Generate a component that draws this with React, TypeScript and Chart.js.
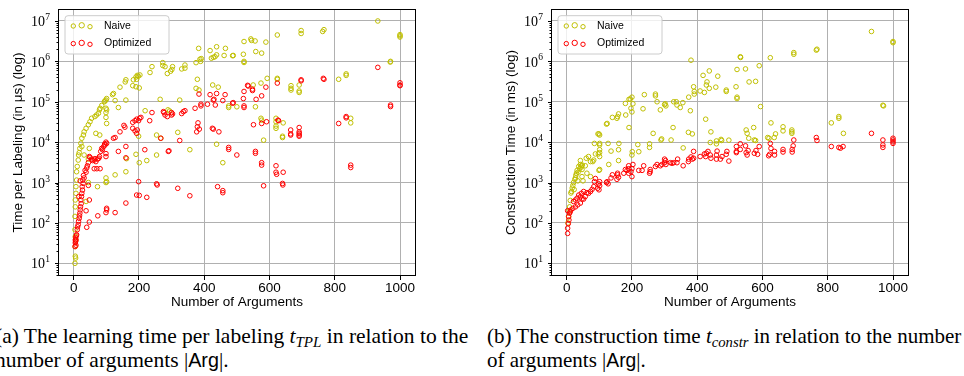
import React, { useEffect, useRef } from 'react';
import { Chart, registerables } from 'chart.js';

Chart.register(...registerables);

type Pt = [number, number];

// ---------- data ----------
const xTicks = [0, 200, 400, 600, 800, 1000];
const yMajorExps = [1, 2, 3, 4, 5, 6, 7];
const seriesLabels = ['Naive', 'Optimized'];
const seriesColors = ['#bfbf00', '#ff0000'];
const xLabel = 'Number of Arguments';
const yLabelTpl = 'Time per Labeling (in \u03bcs) (log)';
const yLabelConstr = 'Construction Time (in ms) (log)';

const tplNaive: Pt[] = [
  [932, 1.0e7], [1000, 4.6e6], [1000, 4.3e6], [1000, 4.0e6], [971, 1.0e6], [970, 9.6e5],
  [763, 5.5e6], [767, 6.1e6], [697, 5.8e6], [697, 4.9e6], [624, 4.5e6], [589, 3.0e6],
  [576, 1.6e6], [558, 1.75e6], [543, 3.6e6], [545, 3.3e6], [556, 3.2e6], [522, 3.1e6],
  [520, 1.5e6], [522, 1.0e6], [522, 9.4e5], [489, 1.4e6], [487, 1.38e6], [461, 1.4e6],
  [465, 2.1e6], [438, 2.3e6], [438, 1.45e6], [433, 1.3e6], [428, 1.26e6], [422, 1.2e6],
  [418, 1.85e6], [389, 1.0e6], [387, 1.13e6], [391, 1.17e6], [375, 9.3e5], [383, 2.1e6],
  [379, 3.6e5], [375, 2.15e5], [384, 1.95e5], [426, 2.6e5], [443, 2.3e5], [341, 8.1e5],
  [341, 6.8e5], [331, 6.5e5], [303, 7.4e5], [301, 6.3e5], [297, 5.7e5], [287, 5.0e5],
  [280, 7.4e5], [273, 9.3e5], [273, 7.9e5], [240, 7.4e5], [234, 5.3e5], [203, 4.6e5],
  [198, 4.3e5], [195, 4.5e5], [191, 4.1e5], [193, 3.6e5], [183, 3.5e5], [181, 2.5e5],
  [191, 2.35e5], [201, 2.2e5], [160, 3.5e5], [158, 3.1e5], [142, 2.3e5], [122, 1.6e5],
  [119, 1.5e5], [127, 1.07e5], [160, 1.1e5], [137, 7.2e4], [101, 1.2e5], [99, 1.1e5],
  [96, 1.05e5], [94, 1.0e5], [99, 6.9e4], [101, 6.3e4], [99, 5.4e4], [99, 4.1e4],
  [101, 2.9e4], [86, 8.1e4], [81, 6.9e4], [79, 6.3e4], [76, 5.2e4], [70, 4.7e4],
  [65, 4.3e4], [55, 3.9e4], [50, 3.2e4], [45, 2.7e4], [38, 2.2e4], [32, 1.8e4],
  [30, 1.5e4], [25, 1.25e4], [22, 9.4e3], [19, 7.0e3], [17, 5.5e3], [15, 4.8e3],
  [68, 1.65e4], [80, 1.5e4], [14, 3.6e3], [11, 2.5e3], [9, 1.85e3], [9, 1.15e3],
  [7, 7.9e2], [7, 5.4e2], [5, 3.7e2], [5, 2.5e2], [4, 1.45e2], [4, 6.8e1], [5, 4.6e1],
  [7, 3.8e1], [5, 2.6e1], [5, 1.5e1], [6, 1.35e1], [4, 1.0e1], [32, 4.8e3], [25, 7.8e3],
  [45, 3.8e3], [45, 1.0e3], [38, 3.4e2], [48, 7.0e3], [73, 7.9e2], [99, 1.3e3],
  [101, 1.05e3], [99, 1.0e3], [127, 1.55e3], [160, 1.85e3], [162, 3.9e3], [191, 5.0e3],
  [201, 3.1e3], [224, 3.5e3], [254, 4.8e3], [254, 1.5e4], [267, 1.25e4], [319, 1.75e4],
  [356, 6.5e3], [325, 1.1e5], [265, 1.15e5], [289, 6.3e4], [294, 5.9e4], [199, 1.4e4],
  [219, 6.0e4], [438, 8.9e3], [457, 3.1e3], [475, 7.9e4], [475, 7.2e4], [500, 7.5e4],
  [557, 7.5e4], [574, 3.9e4], [576, 3.5e4], [582, 1.12e4], [620, 3.9e4], [620, 3.2e4],
  [620, 2.5e4], [620, 2.2e4], [642, 3.0e4], [640, 1.4e4], [640, 1.3e4], [624, 3.8e5],
  [624, 3.6e5], [593, 3.8e5], [574, 2.9e5], [550, 2.6e5], [666, 2.5e5], [666, 2.15e5],
  [666, 1.95e5], [691, 2.6e5], [691, 1.7e5], [691, 1.85e5], [812, 3.6e5], [835, 4.9e5],
  [835, 4.5e5], [849, 3.9e4], [849, 3.0e4]
];

const tplOptimized: Pt[] = [
  [932, 7.1e5], [1000, 2.95e5], [1000, 2.6e5], [1000, 2.5e5], [971, 8.3e4], [971, 7.6e4],
  [765, 3.8e5], [767, 3.6e5], [697, 3.5e5], [697, 3.3e5], [624, 2.9e5], [626, 3.5e4],
  [628, 3.4e4], [591, 3.2e4], [576, 2.9e4], [551, 2.7e4], [589, 2.3e5], [576, 1.4e5],
  [559, 1.15e5], [548, 2.05e5], [548, 1.9e5], [533, 2.55e5], [535, 2.45e5], [522, 1.8e5],
  [520, 1.2e5], [522, 7.9e4], [522, 7.2e4], [489, 9.5e4], [487, 9.2e4], [464, 1.5e5],
  [457, 1.07e5], [438, 1.6e5], [434, 8.3e4], [428, 1.1e5], [430, 1.15e5], [418, 1.5e5],
  [410, 8.7e4], [390, 8.7e4], [390, 7.9e4], [384, 1.55e5], [372, 6.9e4], [381, 3.0e4],
  [379, 2.4e4], [385, 2.1e4], [377, 1.8e4], [425, 2.2e4], [428, 2.1e4], [445, 1.8e4],
  [475, 7.4e3], [475, 6.6e3], [500, 4.8e3], [557, 5.9e3], [557, 5.3e3], [576, 3.1e3],
  [576, 2.7e3], [582, 8.3e2], [620, 2.6e3], [620, 1.8e3], [622, 1.6e3], [642, 1.8e3],
  [640, 9.5e2], [641, 8.7e2], [665, 2.0e4], [665, 1.6e4], [665, 1.5e4], [691, 2.3e4],
  [691, 1.8e4], [691, 1.65e4], [691, 1.5e4], [691, 1.4e4], [812, 2.9e4], [835, 4.3e4],
  [835, 4.0e4], [849, 2.7e3], [849, 2.35e3], [441, 7.9e2], [457, 6.3e2], [457, 5.6e2],
  [356, 4.7e2], [319, 7.2e2], [254, 9.3e2], [256, 8.7e2], [224, 4.3e2], [193, 4.9e2],
  [201, 4.8e2], [199, 1.05e3], [160, 3.1e2], [127, 1.8e2], [101, 2.3e2], [101, 2.1e2],
  [99, 1.8e2], [74, 1.5e2], [48, 1.05e2], [40, 7.8e1], [48, 3.7e2], [38, 2.0e2],
  [45, 8.5e2], [99, 5.2e3], [99, 4.4e3], [96, 8.5e3], [101, 9.3e3], [99, 1.0e4],
  [127, 1.3e4], [122, 1.25e4], [137, 5.9e3], [160, 7.8e3], [160, 4.1e3], [157, 2.35e4],
  [154, 2.6e4], [142, 1.8e4], [181, 3.1e4], [188, 3.4e4], [193, 3.7e4], [199, 3.4e4],
  [202, 3.9e4], [181, 2.2e4], [188, 1.9e4], [195, 2.0e4], [193, 1.65e4], [206, 4.1e4],
  [233, 3.4e4], [240, 5.4e4], [218, 6.5e3], [267, 1.25e4], [290, 5.9e3], [292, 6.1e3],
  [275, 5.7e4], [277, 5.4e4], [287, 4.3e4], [300, 5.4e4], [303, 5.0e4], [300, 4.7e4],
  [280, 4.7e4], [331, 5.1e4], [336, 5.7e4], [341, 6.0e4], [325, 1.1e4],
  [4, 2.6e1], [5, 3.2e1], [7, 3.8e1], [9, 5.1e1], [11, 6.8e1], [14, 9.1e1], [17, 1.3e2],
  [19, 1.75e2], [21, 2.5e2], [22, 3.7e2], [25, 5.4e2], [26, 7.9e2], [28, 1.15e3],
  [30, 1.5e3], [35, 2.0e3], [42, 2.6e3], [45, 3.1e3], [48, 4.4e3], [55, 3.8e3],
  [63, 3.6e3], [68, 3.3e3], [73, 3.8e3], [79, 4.4e3], [83, 5.9e3], [86, 7.0e3],
  [92, 7.8e3], [63, 2.2e3], [71, 2.2e3], [81, 2.2e3], [5, 3.8e1], [6, 3.5e1], [7, 2.8e1],
  [6, 4.3e1], [8, 4.8e1], [12, 8.0e1], [15, 1.1e2], [18, 1.5e2], [20, 2.1e2], [23, 3.0e2],
  [24, 4.5e2], [27, 6.5e2], [29, 9.5e2], [32, 1.3e3], [38, 1.8e3], [40, 2.3e3],
  [50, 4.2e3], [58, 3.5e3], [65, 3.9e3], [77, 4.0e3], [88, 6.5e3], [95, 9.0e3],
  [20, 1.1e3], [16, 4.5e2]
];

const constrNaive: Pt[] = [
  [934, 5.5e6], [1000, 3.1e6], [1000, 2.9e6], [969, 8.2e4], [971, 7.9e4], [765, 1.9e6],
  [767, 2.0e6], [696, 1.65e6], [696, 1.5e6], [624, 1.23e6], [532, 1.3e6], [533, 1.25e6],
  [522, 6.3e5], [548, 6.5e5], [590, 7.8e5], [381, 1.07e6], [437, 5.8e5], [418, 4.5e5],
  [463, 4.3e5], [430, 3.1e5], [428, 2.6e5], [437, 2.15e5], [457, 2.3e5], [422, 1.7e5],
  [409, 1.85e5], [389, 2.35e5], [391, 1.8e5], [391, 1.55e5], [374, 1.3e5], [379, 6.0e4],
  [489, 1.95e5], [489, 1.8e5], [519, 2.35e5], [522, 1.3e5], [522, 1.2e5], [559, 3.1e5],
  [579, 3.2e5], [594, 7.6e4], [356, 9.5e4], [348, 7.2e4], [336, 1.0e5], [328, 1.0e5],
  [338, 8.3e4], [302, 8.9e4], [300, 8.5e4], [304, 7.9e4], [287, 6.3e4], [277, 1.0e5],
  [272, 1.4e5], [272, 1.55e5], [238, 1.5e5], [234, 6.7e4], [203, 8.9e4], [200, 1.3e5],
  [195, 1.17e5], [191, 1.15e5], [197, 6.9e4], [200, 5.6e4], [181, 4.7e4], [191, 2.3e4],
  [180, 9.1e4], [159, 5.0e4], [156, 4.3e4], [154, 3.9e4], [140, 4.1e4], [124, 2.9e4],
  [122, 2.8e4], [96, 1.6e4], [101, 1.5e4], [99, 1.6e4], [101, 9.3e3], [101, 8.5e3],
  [101, 6.5e3], [101, 5.5e3], [97, 5.1e3], [101, 4.4e3], [101, 2.1e3], [99, 2.0e3],
  [127, 9.3e3], [129, 2.8e3], [136, 6.0e3], [160, 9.3e3], [159, 6.5e3], [159, 3.5e3],
  [200, 4.8e3], [201, 5.8e3], [221, 5.8e3], [218, 8.7e3], [254, 9.1e3], [254, 7.4e3],
  [265, 1.65e4], [291, 1.2e4], [289, 1.13e4], [320, 1.13e4], [326, 2.3e4], [357, 7.2e3],
  [373, 1.75e4], [385, 1.6e4], [426, 3.7e4], [442, 1.8e4], [440, 9.8e3], [459, 1.07e4],
  [459, 9.1e3], [473, 1.17e4], [475, 1.1e4], [497, 1.12e4], [550, 2.0e4], [553, 1.65e4],
  [558, 1.25e4], [573, 2.3e4], [575, 1.13e4], [579, 1.1e4], [616, 1.3e4], [620, 1.25e4],
  [626, 3.0e4], [636, 1.3e4], [640, 1.6e4], [663, 2.4e4], [663, 1.9e4], [690, 2.0e4],
  [690, 1.8e4], [690, 1.65e4], [811, 3.0e4], [834, 4.3e4], [834, 3.9e4], [848, 1.65e4],
  [6, 1.4e2], [9, 2.5e2], [11, 3.6e2], [13, 5.5e2], [17, 7.3e2], [21, 1.0e3], [27, 1.3e3],
  [30, 1.7e3], [32, 2.0e3], [37, 2.5e3], [42, 2.8e3], [44, 2.4e3], [47, 1.4e3],
  [50, 1.1e3], [34, 1.1e3], [23, 6.7e2], [42, 3.5e3], [60, 4.0e3], [67, 4.4e3],
  [73, 3.3e3], [80, 3.3e3], [83, 3.6e3], [88, 5.1e3], [85, 9.3e3], [62, 1.7e3],
  [73, 1.4e3], [57, 2.6e3], [47, 2.1e3], [40, 2.2e3], [45, 2.6e3], [48, 2.7e3],
  [35, 1.8e3], [28, 1.5e3], [25, 1.2e3], [19, 8.5e2], [15, 6.0e2], [8, 2.0e2], [4, 1.0e2]
];

const constrOptimized: Pt[] = [
  [934, 1.65e4], [1000, 1.25e4], [1000, 1.13e4], [1000, 1.02e4], [1000, 9.3e3],
  [969, 1.13e4], [969, 8.5e3], [969, 7.4e3], [847, 7.8e3], [834, 7.4e3], [839, 7.1e3],
  [811, 7.8e3], [765, 1.3e4], [767, 1.1e4], [696, 1.13e4], [694, 8.1e3], [691, 6.6e3],
  [691, 5.7e3], [663, 6.6e3], [663, 5.7e3], [637, 5.9e3], [637, 4.8e3], [624, 9.3e3],
  [626, 7.0e3], [622, 5.0e3], [619, 4.6e3], [590, 7.8e3], [580, 6.2e3], [575, 5.3e3],
  [585, 5.0e3], [556, 6.2e3], [550, 5.5e3], [553, 4.8e3], [548, 8.1e3], [532, 9.1e3],
  [532, 6.6e3], [520, 7.8e3], [520, 5.9e3], [520, 5.5e3], [491, 5.9e3], [489, 5.0e3],
  [497, 3.4e3], [476, 4.4e3], [471, 3.8e3], [459, 3.8e3], [459, 4.8e3], [461, 6.0e3],
  [440, 4.8e3], [442, 4.0e3], [433, 5.9e3], [428, 5.3e3], [426, 4.4e3], [422, 5.1e3],
  [409, 4.4e3], [389, 5.9e3], [389, 4.0e3], [385, 3.8e3], [381, 4.3e3], [374, 3.8e3],
  [373, 3.3e3], [357, 2.6e3], [340, 3.8e3], [338, 3.1e3], [328, 3.1e3], [323, 3.0e3],
  [318, 3.1e3], [300, 3.8e3], [303, 3.5e3], [300, 3.1e3], [304, 2.8e3], [292, 2.8e3],
  [287, 2.6e3], [277, 2.8e3], [272, 2.5e3], [256, 2.1e3], [256, 1.86e3], [254, 1.7e3],
  [236, 2.6e3], [221, 2.0e3], [231, 2.0e3], [203, 2.8e3], [200, 2.2e3], [197, 1.86e3],
  [200, 1.4e3], [190, 2.2e3], [185, 2.0e3], [190, 1.7e3], [190, 2.6e3], [180, 2.1e3],
  [175, 1.7e3], [156, 1.7e3], [159, 1.35e3], [154, 1.2e3], [156, 1.55e3], [140, 1.55e3],
  [136, 1.3e3], [124, 1.05e3], [127, 9.3e2], [122, 1.0e3], [101, 1.05e3], [98, 9.3e2],
  [101, 8.3e2], [95, 7.2e2], [99, 6.6e2], [88, 1.26e3], [85, 1.05e3], [83, 7.9e2],
  [78, 6.8e2], [73, 6.0e2], [67, 5.4e2], [62, 5.6e2], [57, 4.5e2], [52, 3.9e2],
  [47, 3.9e2], [42, 4.4e2], [37, 4.9e2], [32, 4.1e2], [27, 3.7e2], [21, 3.4e2],
  [42, 3.1e2], [34, 2.8e2], [27, 2.5e2], [19, 2.3e2], [13, 2.1e2], [9, 1.75e2],
  [6, 1.45e2], [7, 1.18e2], [5, 9.6e1], [3, 7.4e1], [3, 5.5e1], [3, 2.0e2], [11, 1.9e2],
  [45, 5.4e2], [52, 6.0e2]
];

// ---------- chart helpers ----------
const SANS = '"Liberation Sans", Arial, Helvetica, sans-serif';
const SERIF = '"Liberation Serif", "Times New Roman", serif';

const decorPlugin = {
  id: 'decor',
  afterDraw(chart: any) {
    const { ctx, chartArea } = chart;
    const { left, top, right, bottom } = chartArea;
    const ys = chart.scales.y;
    ctx.save();
    // frame
    ctx.strokeStyle = '#000';
    ctx.lineWidth = 1;
    ctx.strokeRect(left + 0.5, top + 0.5, right - left - 1, bottom - top - 1);
    // y ticks (major + minor)
    ctx.beginPath();
    for (let e = 0; e <= 7; e++) {
      for (let m = 1; m <= 9; m++) {
        const v = m * Math.pow(10, e);
        if (v < ys.min || v > ys.max) continue;
        const py = Math.round(ys.getPixelForValue(v)) + 0.5;
        const len = m === 1 ? 3.5 : 2;
        ctx.moveTo(left + 0.5 - len, py);
        ctx.lineTo(left + 0.5, py);
      }
    }
    ctx.stroke();
    // y tick labels 10^n
    ctx.fillStyle = '#000';
    ctx.textBaseline = 'middle';
    ctx.textAlign = 'right';
    for (const e of yMajorExps) {
      const py = ys.getPixelForValue(Math.pow(10, e));
      const expStr = String(e);
      ctx.font = `9.5px ${SERIF}`;
      const expW = ctx.measureText(expStr).width;
      const xr = left - 8;
      ctx.fillText(expStr, xr, py - 3.5);
      ctx.font = `14px ${SERIF}`;
      ctx.fillText('10', xr - expW - 0.3, py + 1.5);
    }
    // legend
    const lx = left + 7;
    const ly = top + 6.7;
    const lw = 104;
    const lh = 38.3;
    const r = 3;
    ctx.beginPath();
    ctx.moveTo(lx + r, ly);
    ctx.lineTo(lx + lw - r, ly);
    ctx.quadraticCurveTo(lx + lw, ly, lx + lw, ly + r);
    ctx.lineTo(lx + lw, ly + lh - r);
    ctx.quadraticCurveTo(lx + lw, ly + lh, lx + lw - r, ly + lh);
    ctx.lineTo(lx + r, ly + lh);
    ctx.quadraticCurveTo(lx, ly + lh, lx, ly + lh - r);
    ctx.lineTo(lx, ly + r);
    ctx.quadraticCurveTo(lx, ly, lx + r, ly);
    ctx.closePath();
    ctx.fillStyle = 'rgba(255,255,255,0.8)';
    ctx.fill();
    ctx.strokeStyle = '#cccccc';
    ctx.lineWidth = 1;
    ctx.stroke();
    const rows = [10, 27.6];
    const mx = [8.3, 16.7, 25];
    const mr = [2.2, 2.7, 2.2];
    const mdy = [0.3, -0.4, 1.0];
    chart.data.datasets.forEach((ds: any, i: number) => {
      const cy = ly + rows[i];
      ctx.strokeStyle = ds.borderColor;
      ctx.lineWidth = 1;
      for (let k = 0; k < 3; k++) {
        ctx.beginPath();
        ctx.arc(lx + mx[k], cy + mdy[k], mr[k], 0, Math.PI * 2);
        ctx.stroke();
      }
      ctx.fillStyle = '#000';
      ctx.font = `10.5px ${SANS}`;
      ctx.textAlign = 'left';
      ctx.textBaseline = 'middle';
      ctx.fillText(ds.label, lx + 39, cy);
    });
    ctx.restore();
  }
};

type PanelCfg = {
  naive: Pt[];
  optimized: Pt[];
  yTitle: string;
  yAxisWidth: number;
  padRight: number;
  yTitlePad: number;
};

function buildChart(canvas: HTMLCanvasElement, cfg: PanelCfg) {
  const toXY = (arr: Pt[]) => arr.map(([x, y]) => ({ x, y }));
  return new Chart(canvas, {
    type: 'scatter',
    data: {
      datasets: [
        {
          label: seriesLabels[0],
          data: toXY(cfg.naive),
          borderColor: seriesColors[0],
          backgroundColor: 'rgba(0,0,0,0)',
          pointRadius: 2.3,
          pointHoverRadius: 2.3,
          pointBorderWidth: 1,
          order: 1
        },
        {
          label: seriesLabels[1],
          data: toXY(cfg.optimized),
          borderColor: seriesColors[1],
          backgroundColor: 'rgba(0,0,0,0)',
          pointRadius: 2.3,
          pointHoverRadius: 2.3,
          pointBorderWidth: 1,
          order: 0
        }
      ]
    },
    options: {
      animation: false,
      responsive: false,
      devicePixelRatio: 1,
      events: [],
      layout: { padding: { left: 0, right: cfg.padRight, top: 9, bottom: 0 } },
      plugins: { legend: { display: false }, tooltip: { enabled: false } },
      scales: {
        x: {
          type: 'linear',
          min: -48,
          max: 1049,
          afterBuildTicks: (s: any) => {
            s.ticks = xTicks.map((v) => ({ value: v }));
          },
          afterFit: (s: any) => {
            s.height = 34;
          },
          grid: {
            color: '#b0b0b0',
            lineWidth: 1,
            drawTicks: true,
            tickLength: 4,
            tickColor: '#000',
            tickWidth: 1
          },
          border: { display: false },
          ticks: {
            color: '#000',
            font: { family: SANS, size: 13.5, lineHeight: 1 },
            padding: 2,
            maxRotation: 0,
            autoSkip: false,
            callback: (v: any) => String(v)
          },
          title: {
            display: true,
            text: xLabel,
            color: '#000',
            font: { family: SANS, size: 13.5, lineHeight: 1 },
            padding: { top: 0, bottom: 1.25 }
          }
        },
        y: {
          type: 'logarithmic',
          min: 4.85,
          max: 1.98e7,
          afterBuildTicks: (s: any) => {
            s.ticks = yMajorExps.map((e) => ({ value: Math.pow(10, e), major: true }));
          },
          afterFit: (s: any) => {
            s.width = cfg.yAxisWidth;
          },
          grid: { color: '#b0b0b0', lineWidth: 1, drawTicks: false },
          border: { display: false },
          ticks: { display: false },
          title: {
            display: true,
            text: cfg.yTitle,
            color: '#000',
            font: { family: SANS, size: 13.5, lineHeight: 1 },
            padding: { top: cfg.yTitlePad, bottom: 0 }
          }
        }
      }
    } as any,
    plugins: [decorPlugin]
  });
}

function Panel(props: PanelCfg & { left: number; width: number }) {
  const ref = useRef<HTMLCanvasElement | null>(null);
  useEffect(() => {
    if (!ref.current) return;
    const chart = buildChart(ref.current, props);
    return () => chart.destroy();
  }, []);
  return (
    <canvas
      ref={ref}
      width={props.width}
      height={310}
      style={{ position: 'absolute', left: props.left, top: 0, width: props.width, height: 310 }}
    />
  );
}

const subStyle: React.CSSProperties = {
  fontSize: '0.7em',
  fontStyle: 'italic',
  verticalAlign: '-0.28em',
  lineHeight: 0
};

export default function App() {
  useEffect(() => {
    document.body.style.margin = '0';
    document.body.style.background = '#fff';
  }, []);
  const capStyle: React.CSSProperties = {
    position: 'absolute',
    top: 324,
    fontFamily: SERIF,
    fontSize: 21,
    lineHeight: '24px',
    whiteSpace: 'nowrap',
    color: '#000'
  };
  return (
    <div style={{ position: 'relative', width: 964, height: 376, overflow: 'hidden', background: '#fff' }}>
      <Panel
        left={0}
        width={480}
        naive={tplNaive}
        optimized={tplOptimized}
        yTitle={yLabelTpl}
        yAxisWidth={58}
        padRight={64}
        yTitlePad={11.75}
      />
      <Panel
        left={480}
        width={484}
        naive={constrNaive}
        optimized={constrOptimized}
        yTitle={yLabelConstr}
        yAxisWidth={71}
        padRight={55}
        yTitlePad={25}
      />
      <div style={{ ...capStyle, left: -5, fontSize: 21.5 }}>
        <div>
          (a) The learning time per labeling <i>t</i>
          <span style={subStyle}>TPL</span> in relation to the
        </div>
        <div>
          number of arguments |<span style={{ fontFamily: SANS, fontSize: '0.92em' }}>Arg</span>|.
        </div>
      </div>
      <div style={{ ...capStyle, left: 487 }}>
        <div>
          (b) The construction time <i>t</i>
          <span style={subStyle}>constr</span> in relation to the number
        </div>
        <div>
          of arguments |<span style={{ fontFamily: SANS, fontSize: '0.92em' }}>Arg</span>|.
        </div>
      </div>
    </div>
  );
}
